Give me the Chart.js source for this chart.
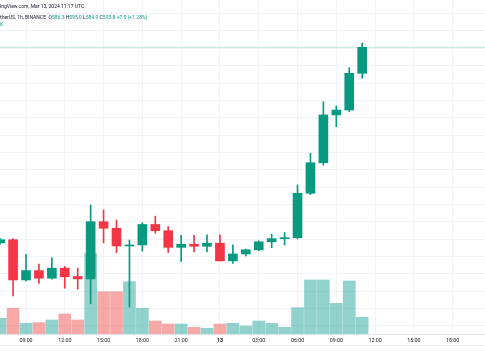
<!DOCTYPE html>
<html><head><meta charset="utf-8">
<script src="https://cdn.jsdelivr.net/npm/chart.js@4.4.1/dist/chart.umd.min.js"></script>
<style>
html,body{margin:0;padding:0;background:#fff;}
#wrap{position:relative;width:485px;height:360px;overflow:hidden;}
#c{position:absolute;left:0;top:0;}
.hdr{position:absolute;left:0;font-family:Roboto,'Liberation Sans',sans-serif;font-size:5px;white-space:nowrap;color:#131722;line-height:6px;}
.v{color:#089981;}
#sep{position:absolute;left:0;top:345px;width:485px;height:1px;background:#eef0f4;}
</style></head>
<body><div id="wrap"><canvas id="c" width="485" height="360"></canvas>
<div class="hdr" style="top:3px">ingView.com, Mar 13, 2024 11:17 UTC</div>
<div class="hdr" id="ohlc" style="top:14px"></div>
<div class="hdr v" style="top:21px">K</div>
<div id="sep"></div>
</div>
<script>
// hours since Mar 12 00:00 UTC (1h candles)
const hours   = [7,8,9,10,11,12,13,14,15,16,17,18,19,20,21,22,23,24,25,26,27,28,29,30,31,32,33,34,35];
const opens   = [537.4,538.3,526.7,529.4,527.2,530.1,527.7,527.0,543.5,541.6,536.5,536.8,542.7,540.9,536.1,537.0,536.4,537.3,532.2,534.2,535.4,537.7,538.6,538.9,551.7,560.5,574.3,575.7,586.3];
const highs   = [538.6,538.6,534.1,531.3,533.1,530.6,530.1,548.3,546.9,544.0,538.2,543.2,545.1,542.1,539.6,539.6,539.7,539.7,536.8,535.6,538.0,539.9,540.4,554.1,563.2,578.1,576.9,587.9,595.0];
const lows    = [537.0,522.1,526.4,525.7,526.9,524.3,524.0,519.8,537.4,534.6,518.9,535.0,540.2,534.6,532.0,534.8,534.8,532.2,531.5,533.6,535.1,536.0,536.8,538.5,551.3,559.8,570.9,575.2,584.9];
const closes  = [538.3,526.7,529.4,527.2,530.1,527.6,527.0,543.5,541.6,536.5,536.8,542.7,540.9,536.1,537.0,536.4,537.3,532.2,534.2,535.4,537.7,538.6,538.9,551.7,560.5,574.3,575.7,586.3,593.8];
const volumes = [15.7,25.7,10.7,11.3,14,20,14,80.7,42.3,42.3,52.3,25.7,13,10,10,6.7,5.7,10,10.7,8,13,10.7,6.7,26.3,54,54,30.7,53,16.7];
const tickHours  = [9,12,15,18,21,24,27,30,33,36,39,42];
const tickLabels = ["09:00","12:00","15:00","18:00","21:00","13","03:00","06:00","09:00","12:00","15:00","18:00"];
const gridPrices = [513.5,518.5,523.5,528.5,533.5,538.5,543.5,548.5,553.5,558.5,563.5,568.5,573.5,578.5,583.5,588.5,593.5,598.5,603.5];

const X_MIN = 6.989, X_MAX = 44.5, P_MIN = 511.11, P_MAX = 607.44, V_MAX = 334;
const UP = '#089981', DOWN = '#f23645', UPV = 'rgba(38,166,154,0.5)', DOWNV = 'rgba(239,83,80,0.5)';
const isUp = i => closes[i] >= opens[i];
const last = closes.length - 1;

// header
const f = v => v.toFixed(1);
const chg = closes[last] - opens[last];
const pct = chg / opens[last] * 100;
document.getElementById('ohlc').innerHTML =
  'therUS, 1h, BINANCE&nbsp; O<span class="v">' + f(opens[last]) + '</span> H<span class="v">' + f(highs[last]) +
  '</span> L<span class="v">' + f(lows[last]) + '</span> C<span class="v">' + f(closes[last]) +
  ' ' + (chg >= 0 ? '+' : '') + f(chg) + ' (' + (chg >= 0 ? '+' : '') + pct.toFixed(2) + '%)</span>';

new Chart(document.getElementById('c'), {
  type: 'bar',
  data: {
    datasets: [
      { label: 'Last', type: 'line', yAxisID: 'y', order: 5,
        data: [{x: X_MIN, y: closes[last]}, {x: X_MAX, y: closes[last]}],
        borderColor: 'rgba(8,153,129,0.25)', borderWidth: 1, pointRadius: 0 },
      { label: 'Volume', yAxisID: 'yv', order: 4, grouped: false, barThickness: 12,
        data: hours.map((h, i) => ({x: h, y: volumes[i]})),
        backgroundColor: c => isUp(c.dataIndex) ? UPV : DOWNV },
      { label: 'Wick', yAxisID: 'y', order: 3, grouped: false, barThickness: 1,
        data: hours.map((h, i) => ({x: h, y: [lows[i], highs[i]]})),
        backgroundColor: c => isUp(c.dataIndex) ? UP : DOWN },
      { label: 'Body', yAxisID: 'y', order: 2, grouped: false, barThickness: 9, minBarLength: 1,
        data: hours.map((h, i) => ({x: h, y: [opens[i], closes[i]]})),
        backgroundColor: c => isUp(c.dataIndex) ? UP : DOWN }
    ]
  },
  options: {
    responsive: false, animation: false,
    layout: { padding: 0 },
    plugins: { legend: { display: false }, tooltip: { enabled: false } },
    scales: {
      x: {
        type: 'linear', min: X_MIN, max: X_MAX, offset: false,
        afterBuildTicks: s => { s.ticks = tickHours.map(v => ({value: v})); },
        afterFit: s => { s.height = 26; },
        ticks: {
          autoSkip: false, maxRotation: 0, padding: 3, color: '#131722',
          callback: (v, i) => tickLabels[i],
          font: c => ({ family: 'Roboto', size: 5.3, weight: (c.tick && c.tick.value === 24) ? 'bold' : 'normal' })
        },
        grid: { color: '#f0f3fa', drawTicks: false, offset: false },
        border: { display: true, color: '#e0e3eb' }
      },
      y: {
        position: 'left', min: P_MIN, max: P_MAX,
        afterBuildTicks: s => { s.ticks = gridPrices.map(v => ({value: v})); },
        afterFit: s => { s.width = 0; },
        ticks: { display: false },
        grid: { color: '#f0f3fa', drawTicks: false },
        border: { display: false }
      },
      yv: { display: false, min: 0, max: V_MAX }
    }
  }
});
</script>
</body></html>
